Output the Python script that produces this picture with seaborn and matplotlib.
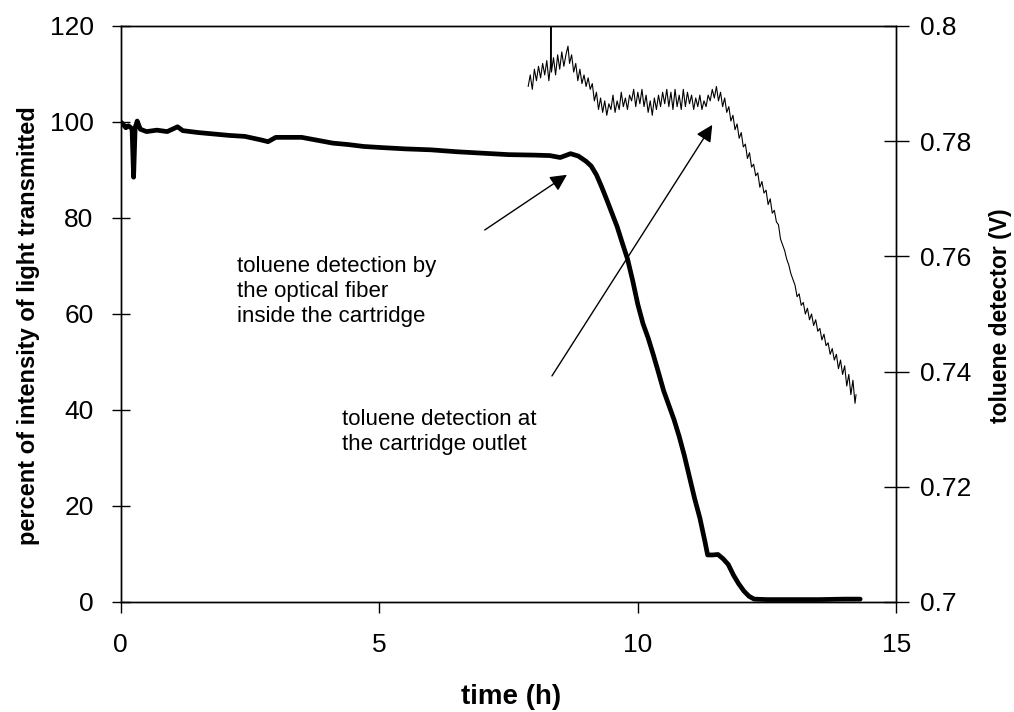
import numpy as np
import pandas as pd
import matplotlib
matplotlib.use("Agg")
import matplotlib.pyplot as plt
from matplotlib.ticker import FuncFormatter
import seaborn as sns

# optical fiber inside the cartridge (left axis, %)
fiber_time = [0.00, 0.05, 0.10, 0.15, 0.22, 0.25, 0.28, 0.32, 0.38, 0.50,
              0.70, 0.90, 1.10, 1.20, 1.50, 1.80, 2.10, 2.40, 2.70, 2.85,
              3.00, 3.50, 3.80, 4.10, 4.40, 4.70, 5.00, 5.50, 6.00, 6.50,
              7.00, 7.50, 8.00, 8.30, 8.50, 8.70, 8.85, 9.00, 9.10, 9.20,
              9.30, 9.40, 9.50, 9.60, 9.70, 9.80, 9.90, 10.00, 10.10, 10.20,
              10.30, 10.40, 10.50, 10.60, 10.70, 10.80, 10.90, 11.00, 11.10, 11.20,
              11.30, 11.35, 11.45, 11.55, 11.65, 11.75, 11.85, 11.95, 12.05, 12.15,
              12.25, 12.50, 13.00, 13.50, 14.00, 14.30]
fiber_pct = [100.0, 99.5, 98.8, 99.2, 98.6, 88.5, 98.8, 100.2, 98.5, 98.0,
             98.3, 98.0, 99.0, 98.2, 97.8, 97.5, 97.2, 97.0, 96.3, 95.9,
             96.8, 96.8, 96.2, 95.6, 95.3, 94.9, 94.7, 94.4, 94.2, 93.8,
             93.5, 93.2, 93.1, 93.0, 92.6, 93.4, 92.9, 91.8, 90.8, 89.0,
             86.5, 83.8, 81.0, 78.2, 74.8, 71.5, 67.0, 62.0, 58.0, 55.0,
             51.5, 47.8, 44.0, 41.0, 38.0, 34.5, 30.5, 26.0, 21.5, 17.5,
             12.5, 9.8, 9.8, 9.9, 9.0, 7.8, 5.6, 3.8, 2.3, 1.2,
             0.6, 0.5, 0.5, 0.5, 0.6, 0.6]

# toluene detector at the cartridge outlet (right axis, V)
det_time = [7.88, 7.92, 7.96, 8.00, 8.04, 8.08, 8.12, 8.16, 8.20, 8.24,
            8.28, 8.31, 8.32, 8.33, 8.37, 8.41, 8.45, 8.49, 8.53, 8.57,
            8.61, 8.65, 8.68, 8.72, 8.76, 8.80, 8.84, 8.88, 8.92, 8.96,
            9.00, 9.04, 9.08, 9.12, 9.16, 9.20, 9.24, 9.28, 9.32, 9.36,
            9.40, 9.44, 9.48, 9.52, 9.56, 9.60, 9.64, 9.68, 9.72, 9.76,
            9.80, 9.84, 9.88, 9.92, 9.96, 10.00, 10.04, 10.08, 10.12, 10.16,
            10.20, 10.24, 10.28, 10.32, 10.36, 10.40, 10.44, 10.48, 10.52, 10.56,
            10.60, 10.64, 10.68, 10.72, 10.76, 10.80, 10.84, 10.88, 10.92, 10.96,
            11.00, 11.04, 11.08, 11.12, 11.16, 11.20, 11.24, 11.28, 11.32, 11.36,
            11.40, 11.44, 11.48, 11.52, 11.56, 11.60, 11.64, 11.68, 11.72, 11.76,
            11.80, 11.84, 11.88, 11.92, 11.96, 12.00, 12.04, 12.08, 12.12, 12.16,
            12.20, 12.24, 12.28, 12.32, 12.36, 12.40, 12.44, 12.48, 12.52, 12.56,
            12.60, 12.64, 12.68, 12.72, 12.76, 12.80, 12.84, 12.88, 12.92, 12.96,
            13.00, 13.04, 13.08, 13.12, 13.16, 13.20, 13.24, 13.28, 13.32, 13.36,
            13.40, 13.44, 13.48, 13.52, 13.56, 13.60, 13.64, 13.68, 13.72, 13.76,
            13.80, 13.84, 13.88, 13.92, 13.96, 14.00, 14.04, 14.08, 14.12, 14.16,
            14.20, 14.22]
det_volt = [.7895, .7915, .7890, .7925, .7905, .7930, .7910, .7935, .7915, .7940,
            .7905, .7930, .8000, .7920, .7945, .7915, .7950, .7925, .7955, .7930,
            .7950, .7965, .7935, .7950, .7920, .7935, .7905, .7925, .7900, .7915,
            .7895, .7910, .7890, .7900, .7870, .7885, .7855, .7875, .7850, .7870,
            .7845, .7865, .7855, .7880, .7850, .7870, .7855, .7885, .7860, .7875,
            .7855, .7880, .7870, .7890, .7860, .7885, .7865, .7890, .7860, .7880,
            .7850, .7870, .7845, .7875, .7855, .7880, .7860, .7885, .7865, .7890,
            .7860, .7885, .7855, .7890, .7860, .7880, .7855, .7890, .7860, .7885,
            .7865, .7880, .7855, .7875, .7860, .7880, .7855, .7870, .7860, .7880,
            .7870, .7890, .7875, .7895, .7870, .7885, .7860, .7875, .7850, .7860,
            .7835, .7845, .7820, .7830, .7805, .7815, .7790, .7795, .7770, .7780,
            .7755, .7760, .7740, .7745, .7720, .7730, .7710, .7715, .7690, .7700,
            .7675, .7680, .7660, .7655, .7630, .7620, .7610, .7595, .7585, .7570,
            .7560, .7550, .7530, .7535, .7515, .7520, .7500, .7510, .7490, .7500,
            .7480, .7490, .7470, .7475, .7455, .7465, .7445, .7450, .7430, .7440,
            .7420, .7430, .7405, .7420, .7395, .7410, .7375, .7395, .7360, .7385,
            .7345, .7360]

left_ticks = [0, 20, 40, 60, 80, 100, 120]
right_ticks = [0.70, 0.72, 0.74, 0.76, 0.78, 0.80]
x_ticks = [0, 5, 10, 15]

sns.set_style("ticks")
plt.rcParams['font.family'] = ['Liberation Sans', 'DejaVu Sans']
plt.rcParams['text.color'] = 'black'
plt.rcParams['axes.labelcolor'] = 'black'
plt.rcParams['xtick.color'] = 'black'
plt.rcParams['ytick.color'] = 'black'

fig = plt.figure(figsize=(10.14, 7.12), dpi=100)
ax = fig.add_axes([0.119, 0.1545, 0.765, 0.809])
ax2 = ax.twinx()

sns.lineplot(x=fiber_time, y=fiber_pct, ax=ax, color='black', lw=3.4,
             estimator=None, sort=False)
sns.lineplot(x=det_time, y=det_volt, ax=ax2, color='black', lw=0.8,
             estimator=None, sort=False)

ax.set_xlim(0, 15)
ax.set_ylim(0, 120)
ax2.set_ylim(0.7, 0.8)
ax.set_xticks(x_ticks)
ax.set_yticks(left_ticks)
ax2.set_yticks(right_ticks)
ax2.yaxis.set_major_formatter(FuncFormatter(lambda v, p: f'{v:g}'))

ax.tick_params(axis='x', direction='out', length=8, width=1, labelsize=19, pad=14, color='black', labelcolor='black')
ax.tick_params(axis='y', direction='inout', length=13, width=1, labelsize=19, pad=13, color='black', labelcolor='black')
ax2.tick_params(axis='y', direction='inout', length=18, width=1, labelsize=19, pad=8, color='black', labelcolor='black')

for a in (ax, ax2):
    for s in a.spines.values():
        s.set_visible(True)
        s.set_color('black')
        s.set_linewidth(1)

ax.set_xlabel('time (h)', fontsize=20, fontweight='bold', color='black')
ax.xaxis.set_label_coords(0.503, -0.142)
ax.set_ylabel('percent of intensity of light transmitted', fontsize=17, fontweight='bold', color='black')
ax.yaxis.set_label_coords(-0.104, 0.479)
ax2.set_ylabel('toluene detector (V)', fontsize=16.5, fontweight='bold', color='black')
ax2.yaxis.set_label_coords(1.12, 0.497)

ax.text(2.25, 64.6, 'toluene detection by\nthe optical fiber\ninside the cartridge',
        fontsize=16, ha='left', va='center', linespacing=1.25, color='black')
ax.text(4.28, 35.4, 'toluene detection at\nthe cartridge outlet',
        fontsize=16, ha='left', va='center', linespacing=1.25, color='black')

arrow_style = dict(arrowstyle='-|>', color='black', lw=1, mutation_scale=25,
                   shrinkA=0, shrinkB=0)
ax.annotate('', xy=(8.63, 89.0), xytext=(7.04, 77.5), arrowprops=arrow_style)
ax.annotate('', xy=(11.44, 99.4), xytext=(8.34, 47.1), arrowprops=arrow_style)

fig.savefig('out.png', dpi=100)
